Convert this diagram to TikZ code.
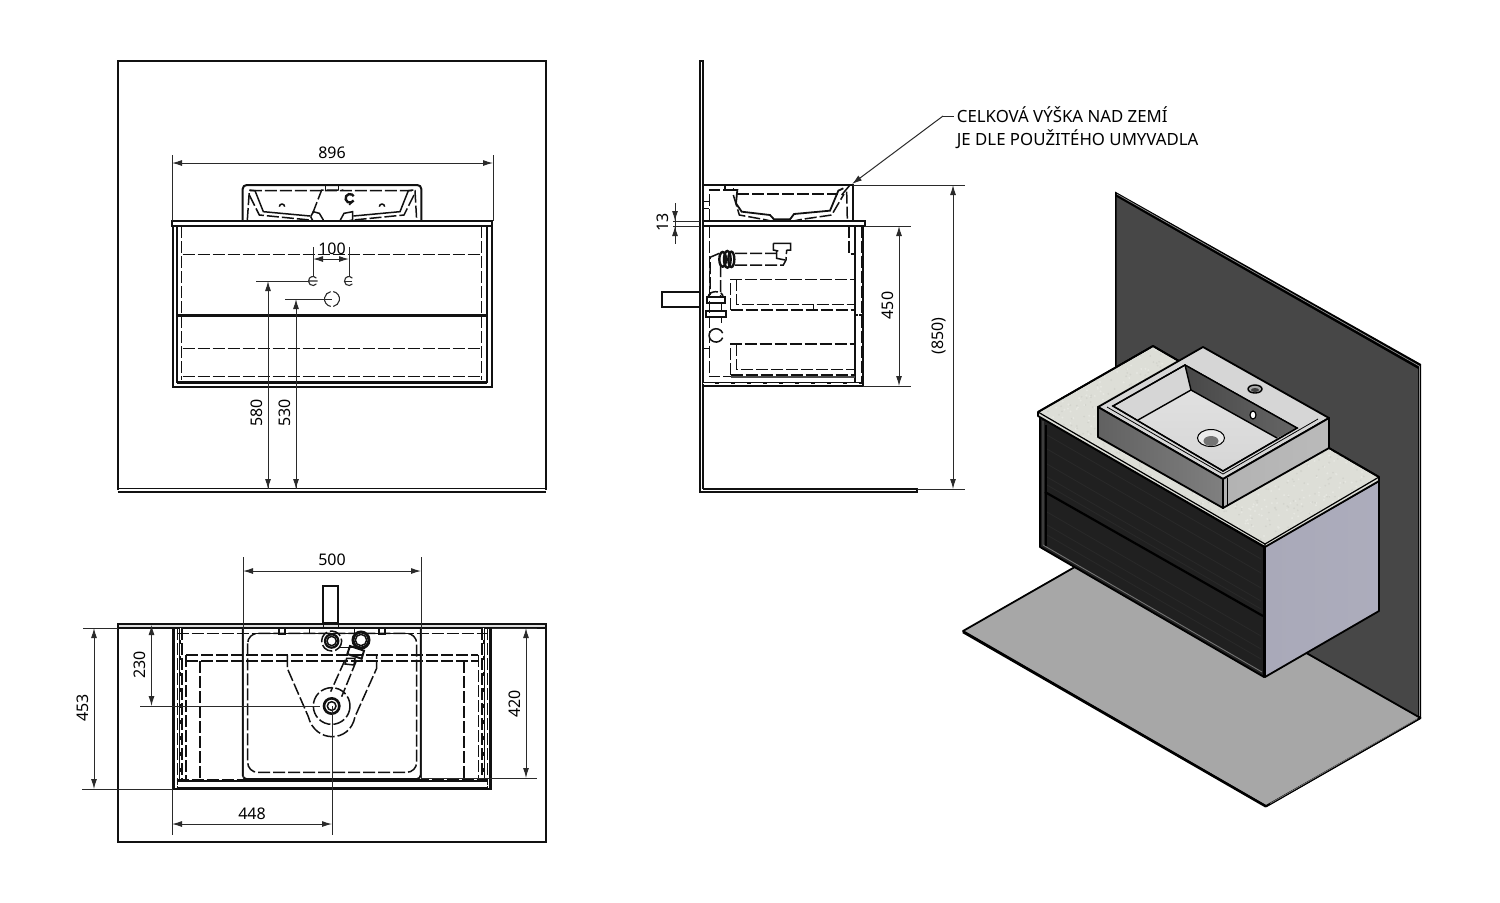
\documentclass[tikz,border=0pt]{standalone}
\usepackage{fontspec}
\setmainfont{Noto Sans}
\usetikzlibrary{arrows.meta}
\definecolor{ln}{HTML}{111111}
\definecolor{dimc}{HTML}{2a2a2a}
\definecolor{countertop}{HTML}{DDDED7}
\definecolor{speckA}{HTML}{D3D4CD}
\definecolor{speckB}{HTML}{E6E7E1}
\definecolor{floorc}{HTML}{A7A7A7}
\definecolor{sidec}{HTML}{A9A9B9}
\tikzset{
 wallln/.style={draw=ln,line width=0.75pt},
 thick1/.style={draw=ln,line width=1pt},
 solid1/.style={draw=ln,line width=0.75pt},
 hid/.style={draw=ln,line width=0.75pt,dash pattern=on 6pt off 1.5pt},
 whid/.style={draw=white,line width=0.5pt,dash pattern=on 6pt off 2pt},
 dimln/.style={draw=dimc,line width=0.5pt},
 dimarr/.style={draw=dimc,line width=0.5pt,{Latex[length=5pt,width=3pt]}-{Latex[length=5pt,width=3pt]}},
 onearr/.style={draw=dimc,line width=0.5pt,-{Latex[length=5pt,width=3pt]}},
 dimtxt/.style={font=\fontsize{8}{9.5}\selectfont,text=black,inner sep=0pt},
 isoedge/.style={draw=black,line width=0.9pt,line join=round},
}
\begin{document}
\begin{tikzpicture}[x=0.5pt,y=-0.5pt]
\useasboundingbox (0,0) rectangle (1500,902);
\fill[white] (0,0) rectangle (1500,902);
%% ---------- front view
\draw[wallln] (118,490) -- (118,61) -- (546,61) -- (546,490);
\draw[wallln] (118,488.7) -- (546,488.7) (117.6,491.8) -- (546.4,491.8);
\begin{scope}[shift={(160,170)},scale=1/3]
 % sink
 \draw[thick1,rounded corners=2pt] (248,153) -- (248,45) -- (784,45) -- (784,153);
 \draw[hid] (262,150) -- (268,62) -- (765,62) -- (770,150);
 \draw[solid1] (497,45) -- (497,60) (535,45) -- (535,60);
 \draw[solid1] (268,60) -- (285,62) -- (310,125) -- (450,138) (745,62) -- (760,60) (745,62) -- (720,125) -- (580,138);
 \draw[hid] (268,75) -- (298,135) -- (450,150) (762,75) -- (732,135) -- (580,150);
 \draw[hid] (458,130) -- (485,60) -- (550,60);
 \draw[solid1] (452,140) -- (460,125) -- (478,130) -- (490,150);
 \draw[solid1] (540,152) -- (552,130) -- (578,125) -- (578,150) -- (540,158);
 \draw[solid1] (452,140) -- (460,155) -- (492,155);
 \draw[thick1] (492,158) -- (540,158);
 \draw[line width=1.2pt,ln] (581,91.5) arc (30:330:13);
 \draw[solid1] (575,95) -- (568,105);
 \draw[solid1] (358,110) arc (180:360:8) (658,110) arc (180:360:8);
 % counter
 \draw[thick1,fill=white] (35,153) rectangle (997,168);
 % carcass
 \draw[thick1] (38,168) -- (38,652) -- (995,652) -- (995,168);
 \draw[thick1] (50,168) -- (50,635) -- (980,635) -- (980,168);
 \draw[line width=1.3pt,ln] (50,437) -- (980,437);
 \draw[thick1] (50,640) -- (980,640);
 \draw[hid] (68,253) -- (965,253) (68,535) -- (965,535) (68,620) -- (965,620);
 \draw[hid] (65,168) -- (65,630) (965,168) -- (965,630);
\end{scope}
\draw[dimln] (172,155) -- (172,221) (493,155) -- (493,221);
\draw[dimarr] (172,163) -- (493,163);
\node[dimtxt] (d896) at (332,152.5) {896};
\node[dimtxt] (d100) at (332,248.5) {100};
\draw[dimln] (313,247) -- (313,277) (349,247) -- (349,277);
\draw[dimarr] (313,259) -- (349,259);
\draw[dimln] (256,281) -- (308,281) (285,299) -- (323,299);
\draw[dimc,line width=0.55pt] (316.4,283.9) arc (40:320:4.5) (308.5,281) -- (317.5,281);
\draw[dimc,line width=0.55pt] (352.4,283.9) arc (40:320:4.5);
\draw[dimln] (345,281) -- (352,281);
\draw[dimc,line width=0.55pt] (330.7,306.4) arc (100:260:7.5) (333.3,291.6) arc (-80:80:7.5);
\draw[dimln] (323,299) -- (332,299);
\draw[onearr] (268,489) -- (268,281);
\draw[onearr] (296,489) -- (296,299);
\draw[onearr] (268,470) -- (268,489);
\draw[onearr] (296,470) -- (296,489);
\node[dimtxt,rotate=90] (d580) at (256.5,413) {580};
\node[dimtxt,rotate=90] (d530) at (285,413) {530};
%% ---------- side view
\draw[thick1] (703,489) -- (703,61) -- (700,61) -- (700,492) -- (917,492) -- (917,489) -- (703,489);
\draw[thick1,fill=white] (662,292) rectangle (700,307);
\begin{scope}[shift={(650,170)},scale=1/3]
 \draw[thick1] (160,45) -- (608,45) -- (608,153);
 \draw[solid1] (600,45) -- (575,75);
 \draw[hid] (178,153) -- (178,60) -- (250,60) -- (250,50);
 \draw[solid1] (160,95) -- (178,95) (160,115) -- (178,115) (225,45) -- (225,60);
 \draw[hid] (262,72) -- (565,72);
 \draw[hid] (590,65) -- (592,150);
 \draw[line width=0.9pt,ln] (250,60) -- (262,60) -- (258,100) -- (275,125) -- (360,135) -- (372,148) -- (420,148) -- (432,132) -- (540,122) -- (565,62) -- (580,55);
 \draw[hid] (250,75) -- (268,135) -- (340,148) -- (372,155) (420,155) -- (455,148) -- (545,135) -- (582,72);
 \draw[thick1,fill=white] (160,153) rectangle (645,167);
 \draw[thick1] (640,167) -- (640,648) -- (160,648);
 \draw[thick1] (160,638) -- (640,638) (615,167) -- (615,638);
 \draw[hid] (178,167) -- (178,620) -- (615,620);
 \draw[hid] (597,167) -- (597,252) -- (615,252);
 \draw[hid] (634,167) -- (634,635);
 \draw[solid1] (178,535) -- (160,535);
 \draw[hid] (615,435) -- (636,435);
 \draw[solid1] (160,320) -- (160,350);
 \draw[hid] (255,250) -- (380,250) (255,285) -- (400,285) -- (408,270) -- (410,240);
 \draw[hid] (208,250) -- (180,262) -- (180,375) (212,285) -- (212,380);
 \draw[line width=1.2pt,ln] (218,268) ellipse (10 and 22);
 \draw[line width=1.2pt,ln] (232,268) ellipse (10 and 25);
 \draw[line width=1.2pt,ln] (244,268) ellipse (9 and 23);
 \draw[solid1] (370,220) -- (422,220) -- (422,240) -- (410,240) (370,220) -- (370,240) -- (385,243) (380,243) -- (380,265) -- (405,270);
 \draw[hid] (175,380) arc (180:360:22 and 15);
 \draw[thick1] (172,382) -- (224,382) -- (224,400) -- (172,400) -- cycle;
 \draw[thick1] (168,422) -- (228,422) -- (228,440) -- (168,440) -- cycle;
 \draw[solid1] (178,440) -- (178,458) (215,440) -- (215,458) (178,400) -- (178,422) (215,400) -- (215,422);
 \draw[solid1] (218,503) arc (20:340:21 and 20);
 \draw[hid] (242,420) -- (242,328) -- (615,328) (260,328) -- (260,403) -- (615,403) (242,420) -- (615,420);
 \draw[solid1] (490,403) -- (490,420);
 \draw[hid] (242,615) -- (242,522) -- (615,522) (260,522) -- (260,598) -- (615,598) (242,615) -- (615,615);
 \fill[ln!75] (242,617) rectangle (615,624);
 \draw[whid] (160,640) -- (640,640);
 \draw[whid] (625,170) -- (625,636);
\end{scope}
\draw[dimln] (673,221) -- (700,221) (673,226) -- (700,226);
\draw[dimln] (675,203) -- (675,244);
\draw[onearr] (675,205) -- (675,221);
\draw[onearr] (675,243) -- (675,226);
\node[dimtxt,rotate=90] (d13) at (663,222.5) {13};
\draw[dimln] (865,226) -- (911,226) (863,386) -- (911,386);
\draw[dimarr] (899,226) -- (899,386);
\node[dimtxt,rotate=90] (d450) at (888,305.5) {450};
\draw[dimln] (853,185) -- (965,185) (917,489) -- (965,489);
\draw[dimarr] (953,185) -- (953,489);
\node[dimtxt,rotate=90] (d850) at (939,336) {(850)};
\node[text=black,inner sep=0pt,anchor=west,align=left,font=\fontsize{8.4}{11.4}\selectfont] (note) at (956.5,128) {CELKOVÁ VÝŠKA NAD ZEMÍ\\JE DLE POUŽITÉHO UMYVADLA};
\coordinate (leadA) at (943,116);
\coordinate (leadB) at (852,184);
\draw[dimln] (954,116) -- (leadA);
\draw[onearr] (leadA) -- (leadB);
%% ---------- plan view
\draw[wallln] (118,625) -- (118,842) -- (546,842) -- (546,625);
\draw[thick1,fill=black!13] (118,624) rectangle (546,628);
\draw[thick1,fill=white] (323,586) rectangle (338,623);
\begin{scope}[shift={(160,580)},scale=1/3]
 \fill[ln] (35,145) rectangle (45,628);
 \fill[ln] (987,145) rectangle (997,628);
 \draw[thick1] (38,628) -- (997,628);
 \draw[hid] (52,145) -- (52,625) (982,145) -- (982,625) (66,145) -- (66,600) (966,145) -- (966,600);
 \draw[solid1] (60,145) -- (60,600) (972,145) -- (972,600);
 \draw[whid] (60,145) -- (60,600) (972,145) -- (972,600);
 \draw[hid] (50,160) -- (985,160);
 \draw[hid] (78,225) -- (955,225) (78,243) -- (955,243) (78,225) -- (78,598) (955,225) -- (955,598) (120,243) -- (120,598) (912,243) -- (912,598);
 \draw[hid] (50,598) -- (985,598);
 \draw[solid1] (50,603) -- (985,603) (50,622) -- (985,622);
 \draw[whid] (50,617) -- (985,617);
 \draw[line width=0.9pt,ln,rounded corners=2pt] (248,145) -- (248,597) -- (782,597) -- (782,145);
 \draw[hid,rounded corners=5pt] (263,160) -- (263,577) -- (770,577) -- (770,160) -- cycle;
 \draw[solid1] (357,145) rectangle (375,163) (657,145) rectangle (675,163);
 \draw[solid1] (448,145) -- (448,160) -- (490,160) (583,145) -- (583,160) (490,132) -- (490,145) (535,132) -- (535,145);
 \draw[hid] (382,225) -- (382,265) -- (445,410) .. controls (465,490) and (570,490) .. (585,410) -- (650,265) -- (650,225);
 \draw[hid] (515,378) circle (55);
 \draw[line width=1.3pt,ln,fill=white] (515,378) circle (23);
 \draw[solid1] (515,378) circle (13);
 \draw[hid] (515,183) circle (30);
 \draw[line width=1.1pt,ln,fill=white] (515,183) circle (20);
 \draw[solid1] (515,183) circle (14);
 \draw[line width=1.5pt,ln,fill=white] (603,180) circle (24);
 \draw[solid1] (603,180) circle (17);
 \draw[solid1] (540,202) -- (575,202);
 \draw[thick1] (570,198) -- (612,212) -- (605,236) -- (562,222) -- cycle;
 \draw[solid1] (560,235) -- (585,235) -- (582,255) -- (555,252) -- cycle;
 \draw[hid] (555,240) -- (512,335) (590,240) -- (545,350);
\end{scope}
\draw[dimln] (83,628) -- (118,628) (82,789) -- (172,789);
\draw[dimarr] (94,628) -- (94,789);
\node[dimtxt,rotate=90] (d453) at (83,708) {453};
\draw[dimln] (140,706) -- (320,706);
\draw[dimarr] (151.5,625) -- (151.5,706);
\node[dimtxt,rotate=90] (d230) at (140,665) {230};
\draw[dimln] (492,628) -- (537,628) (421,778) -- (537,778);
\draw[dimarr] (526,628) -- (526,778);
\node[dimtxt,rotate=90] (d420) at (515,704) {420};
\draw[dimln] (243,557) -- (243,779) (421,557) -- (421,779);
\draw[dimarr] (243,571) -- (421,571);
\node[dimtxt] (d500) at (332,560) {500};
\draw[dimln] (172,789) -- (172,835) (332,706) -- (332,835);
\draw[dimarr] (172,824) -- (332,824);
\node[dimtxt] (d448) at (252,814) {448};
%% ---------- isometric view
\fill[black] (1115,191.5) -- (1421,364) -- (1421,718) -- (1115,544) -- cycle;
\fill[black!72] (1116.5,197) -- (1418,369) -- (1418,716) -- (1116.5,544) -- cycle;
\draw[black!45,line width=0.35pt] (1117,194.2) -- (1419.5,366.2) -- (1419.5,716);
\draw[isoedge,fill=floorc] (963,631) -- (1115,544) -- (1420.5,718) -- (1266,806) -- cycle;
\draw[line width=1.2pt,black,line join=round] (963,632) -- (1266,806.5);
\draw[line width=0.9pt,black,line join=round] (1266,806.5) -- (1420.5,718);
\draw[black!50,line width=0.3pt] (1270,803.5) -- (1417,719);
% cabinet
\draw[isoedge,fill={rgb,255:red,32;green,32;blue,32}] (1040,417) -- (1264,547) -- (1264,677) -- (1040,547) -- cycle;
\foreach \d in {18,32,47,60,68,95,108,118} {\draw[black!84,line width=0.4pt] (1047,417+\d) -- (1261,541+\d);}
\draw[black!55,line width=0.45pt] (1043,421) -- (1043,545) -- (1262,672);
\draw[black,line width=0.6pt] (1046,425) -- (1046,546);
\draw[draw=black,line width=1.1pt] (1045,492) -- (1263,616);
\draw[isoedge,left color=sidec,right color=sidec!96!white] (1265,546) -- (1379,481) -- (1379,611) -- (1265,677) -- cycle;
% counter
\draw[isoedge,fill=countertop] (1038,412) -- (1153,346) -- (1379,477) -- (1379,481) -- (1265,547) -- (1038,416) -- cycle;
\begin{scope}
 \clip (1038,412) -- (1153,346) -- (1379,477) -- (1265,544) -- cycle;
 \pgfmathsetseed{7}
 \foreach \i in {1,...,420} {
  \pgfmathsetmacro{\uu}{rnd}\pgfmathsetmacro{\vv}{rnd}
  \fill[speckA] (1038+227*\uu+115*\vv,412+132*\uu-66*\vv) circle (1);
  \fill[speckB] (1040+225*\vv+115*\uu,412+131*\vv-66*\uu) circle (1.1);
 }
\end{scope}
\draw[black,line width=0.6pt] (1038,412) -- (1265,544) -- (1379,477) (1265,544) -- (1265,547);
\draw[isoedge] (1038,412) -- (1153,346) -- (1379,477);
% sink
\draw[isoedge,fill=black!16] (1098,407) -- (1203,347) -- (1329,418) -- (1223,479) -- cycle;
\draw[isoedge,left color=black!62,right color=black!50] (1098,407) -- (1223,479) -- (1223,508) -- (1098,437) -- cycle;
\draw[isoedge,left color=black!30,right color=black!27] (1223,479) -- (1329,418) -- (1329,448) -- (1223,508) -- cycle;
\draw[black,line width=0.5pt] (1227,478) -- (1227,506);
\draw[draw=black,line width=0.7pt,fill=black!16] (1113,406) -- (1185,365) -- (1297,428) -- (1223,471) -- cycle;
\shade[top color=black!12,bottom color=black!16] (1138,420) -- (1191,390) -- (1277,438) -- (1223,469) -- cycle;
\shade[left color=black!72,right color=black!60] (1185,365) -- (1297,428) -- (1277,438) -- (1191,390) -- cycle;
\draw[black,line width=0.7pt] (1185,365) -- (1297,428) -- (1223,471) -- (1113,406) -- cycle;
\draw[black,line width=0.7pt] (1185,365) -- (1191,390) -- (1277,438) (1191,390) -- (1138,420);
\draw[black,line width=0.4pt] (1107,407) -- (1223,474) -- (1318,419);
\draw[black,fill=black!8,line width=0.5pt] (1211,438) ellipse (13.5 and 8.5);
\fill[black!55] (1211,441) ellipse (7.5 and 5);
\draw[black,fill=black!35,line width=0.7pt] (1255,389) ellipse (7 and 4);
\fill[black!75] (1255,390) ellipse (4 and 2);
\draw[black,fill=white,line width=0.6pt] (1253,415) ellipse (3 and 4);
\end{tikzpicture}
\end{document}
